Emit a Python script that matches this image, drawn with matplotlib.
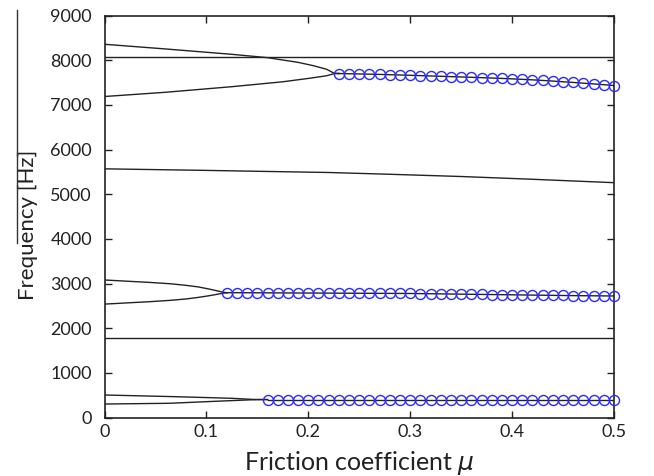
import matplotlib
matplotlib.use("Agg")
import matplotlib.pyplot as plt
from matplotlib.lines import Line2D

plt.rcParams['font.family'] = ['Lato', 'DejaVu Sans']
plt.rcParams['mathtext.fontset'] = 'dejavusans'

# ---- data ----
x_ticks = [0, 0.1, 0.2, 0.3, 0.4, 0.5]
x_tick_labels = ["0", "0.1", "0.2", "0.3", "0.4", "0.5"]
y_ticks = [0, 1000, 2000, 3000, 4000, 5000, 6000, 7000, 8000, 9000]

# straight / single branches
flat_hi_mu = [0.0, 0.5]
flat_hi_f = [8070, 8070]
mid_mu = [0.0, 0.1, 0.15, 0.22, 0.28, 0.35, 0.42, 0.5]
mid_f = [5570, 5535, 5515, 5488, 5448, 5398, 5336, 5260]
flat_lo_mu = [0.0, 0.5]
flat_lo_f = [1770, 1770]

# upper coalescing pair
up_a_mu = [0.0, 0.06, 0.125, 0.16, 0.19, 0.205, 0.218, 0.225, 0.23]
up_a_f = [8360, 8255, 8135, 8060, 7955, 7880, 7800, 7715, 7705]
up_b_mu = [0.0, 0.06, 0.125, 0.175, 0.2, 0.218, 0.225, 0.23]
up_b_f = [7190, 7285, 7410, 7520, 7595, 7655, 7700, 7705]
up_m_mu = [0.23, 0.24, 0.25, 0.26, 0.27, 0.28, 0.29, 0.30, 0.31, 0.32,
           0.33, 0.34, 0.35, 0.36, 0.37, 0.38, 0.39, 0.40, 0.41, 0.42,
           0.43, 0.44, 0.45, 0.46, 0.47, 0.48, 0.49, 0.50]
up_m_f = [7705, 7700, 7695, 7690, 7685, 7678, 7672, 7665, 7658, 7650,
          7643, 7635, 7628, 7620, 7612, 7604, 7595, 7585, 7574, 7563,
          7550, 7536, 7520, 7505, 7488, 7472, 7455, 7435]

# middle coalescing pair
md_a_mu = [0.0, 0.045, 0.065, 0.08, 0.092, 0.102, 0.11, 0.116, 0.12]
md_a_f = [3080, 3025, 2995, 2960, 2925, 2880, 2840, 2808, 2795]
md_b_mu = [0.0, 0.045, 0.065, 0.08, 0.092, 0.102, 0.11, 0.116, 0.12]
md_b_f = [2540, 2595, 2625, 2655, 2690, 2725, 2757, 2783, 2795]
md_m_mu = [0.12, 0.13, 0.14, 0.15, 0.16, 0.17, 0.18, 0.19, 0.20,
           0.21, 0.22, 0.23, 0.24, 0.25, 0.26, 0.27, 0.28, 0.29, 0.30,
           0.31, 0.32, 0.33, 0.34, 0.35, 0.36, 0.37, 0.38, 0.39, 0.40,
           0.41, 0.42, 0.43, 0.44, 0.45, 0.46, 0.47, 0.48, 0.49, 0.50]
md_m_f = [2795, 2795, 2794, 2793, 2792, 2791, 2790, 2789, 2788,
          2787, 2786, 2785, 2784, 2783, 2782, 2781, 2780, 2779, 2778,
          2775, 2772, 2769, 2766, 2763, 2760, 2757, 2754, 2751, 2748,
          2745, 2742, 2739, 2736, 2733, 2730, 2728, 2726, 2724, 2722]

# lower coalescing pair
lo_a_mu = [0.0, 0.07, 0.125, 0.146, 0.16]
lo_a_f = [504, 466, 430, 405, 402]
lo_b_mu = [0.0, 0.063, 0.116, 0.146, 0.16]
lo_b_f = [302, 318, 370, 398, 402]
lo_m_mu = [0.16, 0.17, 0.18, 0.19, 0.20, 0.21, 0.22, 0.23, 0.24, 0.25,
           0.26, 0.27, 0.28, 0.29, 0.30, 0.31, 0.32, 0.33, 0.34, 0.35,
           0.36, 0.37, 0.38, 0.39, 0.40, 0.41, 0.42, 0.43, 0.44, 0.45,
           0.46, 0.47, 0.48, 0.49, 0.50]
lo_m_f = [402, 402, 402, 402, 402, 402, 402, 402, 402, 402,
          402, 402, 402, 402, 402, 402, 402, 402, 402, 402,
          402, 402, 402, 402, 402, 402, 402, 402, 402, 402,
          402, 402, 402, 402, 402]

# ---- figure ----
fig = plt.figure(figsize=(6.54, 4.76), dpi=100)
ax = fig.add_axes([104.5 / 654, 1 - 417.5 / 476, (614 - 104.5) / 654, (417.5 - 15.7) / 476])

lc = '#222222'
lw = 1.0
for mu, f in [(flat_hi_mu, flat_hi_f), (mid_mu, mid_f), (flat_lo_mu, flat_lo_f),
              (up_a_mu, up_a_f), (up_b_mu, up_b_f), (up_m_mu, up_m_f),
              (md_a_mu, md_a_f), (md_b_mu, md_b_f), (md_m_mu, md_m_f),
              (lo_a_mu, lo_a_f), (lo_b_mu, lo_b_f), (lo_m_mu, lo_m_f)]:
    ax.plot(mu, f, color=lc, lw=lw, zorder=2)

for mu, f in [(up_m_mu, up_m_f), (md_m_mu, md_m_f), (lo_m_mu, lo_m_f)]:
    ax.plot(mu, f, linestyle='none', marker='o', markersize=7.2,
            markerfacecolor='none', markeredgecolor='#2a2aff', markeredgewidth=1.0,
            zorder=3, clip_on=False)

ax.set_xlim(0, 0.5)
ax.set_ylim(0, 9000)
ax.set_xticks(x_ticks)
ax.set_xticklabels(x_tick_labels)
ax.set_yticks(y_ticks)
ax.tick_params(direction='in', length=5, width=1.0, top=True, right=True,
               labelsize=13, colors='#222222')
ax.tick_params(axis='y', pad=9)
ax.tick_params(axis='x', pad=5)
for s in ax.spines.values():
    s.set_linewidth(1.2)
    s.set_color('#222222')

ax.set_xlabel(r"Friction coefficient $\mu$", fontsize=18, color='#222222')
ax.set_ylabel("Frequency [Hz]", fontsize=16, color='#222222')
ax.yaxis.set_label_coords((38 - 104.5) / 509.5, (417.5 - 225) / 401.8)
ax.xaxis.set_label_coords(0.5, (417.5 - 449) / 401.8)

fig.add_artist(Line2D([17 / 654, 17 / 654], [1 - 10 / 476, 1 - 243 / 476],
                      color='#333333', lw=1.0))

fig.savefig("out.png", dpi=100)
